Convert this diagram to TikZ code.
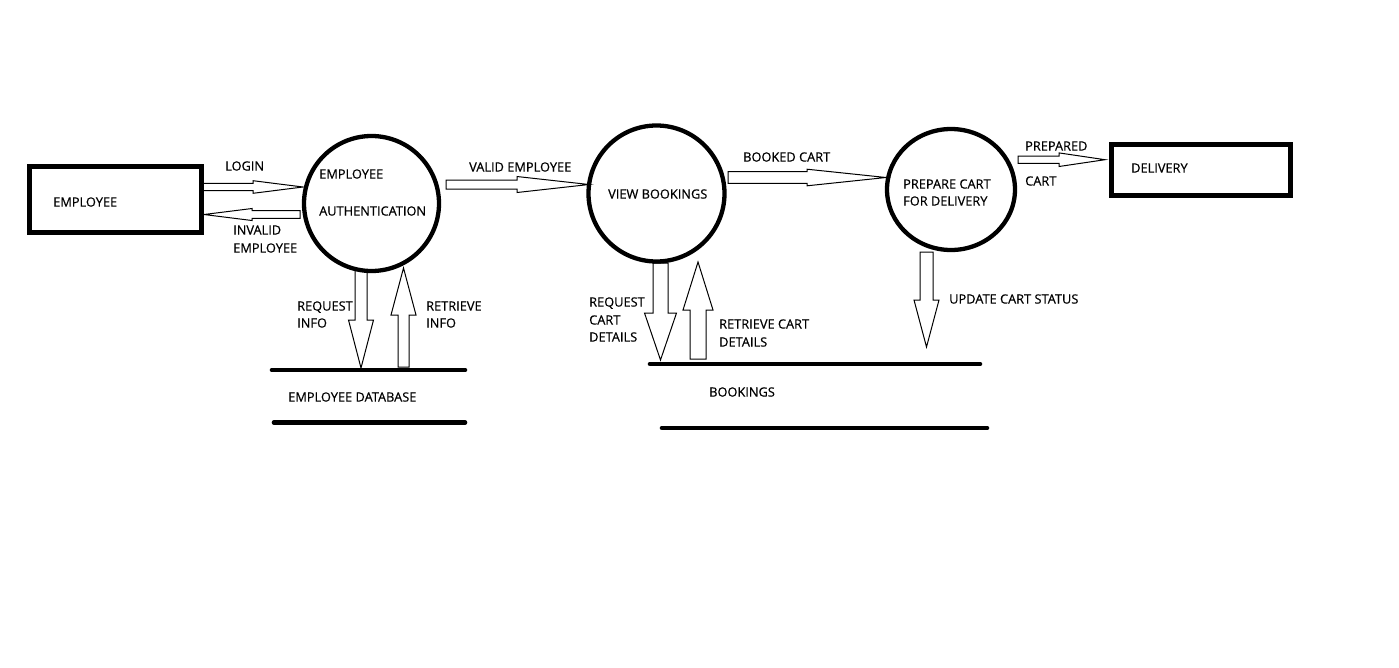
\documentclass[tikz,border=0pt]{standalone}
\usepackage{fontspec}
\setmainfont{Open Sans}[FakeBold=0.5]
\usetikzlibrary{calc,shapes.geometric}
\tikzset{
  lbl/.style={anchor=base west, inner sep=0pt, font=\fontsize{12.8}{15}\selectfont, text=black},
  process/.style={draw=black, line width=4.3pt, ellipse, inner sep=0pt},
  entity/.style={draw=black, rectangle, inner sep=0pt},
  store/.style={line width=4.6pt, line cap=round},
  flowarrow/.style={draw=black, fill=white, line width=1pt, line join=miter}
}
\newcommand\blockarrow[5]{%
  \draw[flowarrow] ($(#1)!#3!90:(#2)$) -- ($(#2)!#5!(#1)!#3!-90:(#1)$)
    -- ($(#2)!#5!(#1)!#4!-90:(#1)$) -- (#2)
    -- ($(#2)!#5!(#1)!#4!90:(#1)$) -- ($(#2)!#5!(#1)!#3!90:(#1)$)
    -- ($(#1)!#3!-90:(#2)$) -- cycle;}
\begin{document}
\begin{tikzpicture}[x=1pt,y=-1pt]
\useasboundingbox[fill=white] (0,0) rectangle (1399,667);

% arrow end points
\coordinate (loginS) at (203,187);   \coordinate (loginE) at (303,187);
\coordinate (invS) at (300,214.5);   \coordinate (invE) at (204,214.5);
\coordinate (validS) at (446,184.5); \coordinate (validE) at (589,184.5);
\coordinate (bookS) at (728,177.5);  \coordinate (bookE) at (886,177.5);
\coordinate (prepS) at (1018,159.7); \coordinate (prepE) at (1105,159.7);
\coordinate (rqiS) at (361,270);     \coordinate (rqiE) at (361,368);
\coordinate (rtiS) at (403.5,367);   \coordinate (rtiE) at (403.5,268);
\coordinate (rqcS) at (660.5,263);   \coordinate (rqcE) at (660.5,360);
\coordinate (rtcS) at (698,359);     \coordinate (rtcE) at (698,262);
\coordinate (updS) at (926.5,252);   \coordinate (updE) at (926.5,347);

\blockarrow{loginS}{loginE}{3.7pt}{6.3pt}{50pt}
\blockarrow{invS}{invE}{3.8pt}{6pt}{48pt}
\blockarrow{validS}{validE}{4.5pt}{8pt}{72pt}
\blockarrow{bookS}{bookE}{5.8pt}{8.3pt}{79pt}
\blockarrow{prepS}{prepE}{3.7pt}{6.8pt}{46pt}
\blockarrow{rqiS}{rqiE}{6pt}{12.5pt}{48pt}
\blockarrow{rtiS}{rtiE}{5.5pt}{12.5pt}{47pt}
\blockarrow{rqcS}{rqcE}{7.5pt}{16pt}{47pt}
\blockarrow{rtcS}{rtcE}{8pt}{15pt}{48pt}
\blockarrow{updS}{updE}{6.5pt}{12.5pt}{47pt}

% entities
\node[entity, line width=4.7pt, minimum width=172pt, minimum height=66pt] (emp) at (115.5,199.5) {};
\node[entity, line width=5pt, minimum width=179pt, minimum height=51pt] (del) at (1201,170) {};

% processes
\node[process, minimum width=135pt, minimum height=135pt] (auth) at (371.5,203.5) {};
\node[process, minimum width=136pt, minimum height=136pt] (view) at (656.5,193.5) {};
\node[process, minimum width=128pt, minimum height=121pt] (prep) at (951,189.5) {};

% data stores
\coordinate (edb1) at (272,370);  \coordinate (edb2) at (465,370);
\coordinate (edb3) at (274,422.5);\coordinate (edb4) at (465,422.5);
\draw[store] (edb1) -- (edb2);
\draw[store] (edb3) -- (edb4);
\coordinate (bk1) at (650,364);   \coordinate (bk2) at (980,364);
\coordinate (bk3) at (662,428);   \coordinate (bk4) at (987,428);
\draw[store] (bk1) -- (bk2);
\draw[store] (bk3) -- (bk4);

% labels (baseline = centre + 4.6)
\node[lbl] (tEmp) at (53,206.6) {EMPLOYEE};
\node[lbl] (tLogin) at (225,170.6) {LOGIN};
\node[lbl] (tInv1) at (233,234.6) {INVALID};
\node[lbl] (tInv2) at (233,252.6) {EMPLOYEE};
\node[lbl] (tAuth1) at (319,178.6) {EMPLOYEE};
\node[lbl] (tAuth2) at (319,215.6) {AUTHENTICATION};
\node[lbl] (tValid) at (469,171.6) {VALID EMPLOYEE};
\node[lbl] (tView) at (608,198.6) {VIEW BOOKINGS};
\node[lbl] (tBook) at (743,161.6) {BOOKED CART};
\node[lbl] (tPrep1) at (903,188.6) {PREPARE CART};
\node[lbl] (tPrep2) at (903,205.6) {FOR DELIVERY};
\node[lbl] (tPC1) at (1025,150.6) {PREPARED};
\node[lbl] (tPC2) at (1025,185.6) {CART};
\node[lbl] (tDel) at (1131,172.6) {DELIVERY};
\node[lbl] (tRqi1) at (297,310.6) {REQUEST};
\node[lbl] (tRqi2) at (297,327.6) {INFO};
\node[lbl] (tRti1) at (426,310.6) {RETRIEVE};
\node[lbl] (tRti2) at (426,327.6) {INFO};
\node[lbl] (tEdb) at (288,401.6) {EMPLOYEE DATABASE};
\node[lbl] (tRqc1) at (589,306.6) {REQUEST};
\node[lbl] (tRqc2) at (589,324.6) {CART};
\node[lbl] (tRqc3) at (589,341.6) {DETAILS};
\node[lbl] (tRtc1) at (719,328.6) {RETRIEVE CART};
\node[lbl] (tRtc2) at (719,346.6) {DETAILS};
\node[lbl] (tBk) at (709,396.6) {BOOKINGS};
\node[lbl] (tUpd) at (949,303.6) {UPDATE CART STATUS};
\end{tikzpicture}
\end{document}
